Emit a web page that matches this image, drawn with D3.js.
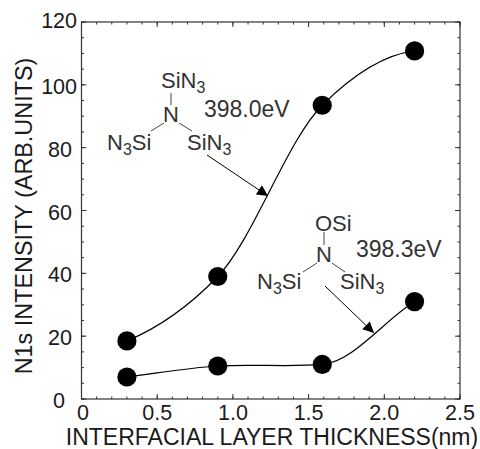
<!DOCTYPE html>
<html><head><meta charset="utf-8">
<script src="https://cdn.jsdelivr.net/npm/d3@7"></script>
<style>html,body{margin:0;background:#fff}svg{display:block}text{font-family:"Liberation Sans",Arial,sans-serif;fill:#1a1a1a}</style>
</head><body><svg id="c" width="480" height="449"></svg>
<script>
const thickness=[0.3,0.9,1.59,2.2];
const seriesA=[18.5,39,93.5,110.8];
const seriesB=[7,10.5,11,31];
// curve tangents (intensity per nm) at each point
const slopesA=[20,50,48,6];
const slopesB=[6,3,4,30];
const xMajor=[0,0.5,1,1.5,2,2.5];
const xLabels=["0","0.5","1.0","1.5","2.0","2.5"];
const yMajor=[0,20,40,60,80,100,120];
const xTitle="INTERFACIAL LAYER THICKNESS(nm)";
const yTitle="N1s INTENSITY (ARB.UNITS)";
const svg=d3.select("#c");
const x=d3.scaleLinear().domain([0,2.5]).range([81.5,460]);
const y=d3.scaleLinear().domain([0,120]).range([399,22]);
svg.append("defs").append("marker").attr("id","ah").attr("viewBox","0 0 10 10").attr("refX",10).attr("refY",5)
 .attr("markerWidth",15).attr("markerHeight",11).attr("markerUnits","userSpaceOnUse").attr("orient","auto")
 .append("path").attr("d","M0,0L10,5L0,10Z").attr("fill","#000");
svg.append("rect").attr("x",81.5).attr("y",22).attr("width",378.5).attr("height",377).attr("fill","none").attr("stroke","#333").attr("stroke-width",1.2);
const xMinor=d3.range(0,26).map(d=>d/10), yMinor=d3.range(0,25).map(d=>d*5);
const tick=(vals,fn,len,w)=>vals.forEach(v=>fn(v,len,w));
const xT=(v,l,w)=>{[[399,-1],[22,1]].forEach(([b,s])=>svg.append("line").attr("x1",x(v)).attr("x2",x(v)).attr("y1",b).attr("y2",b+s*l).attr("stroke","#333").attr("stroke-width",w));};
const yT=(v,l,w)=>{[[81.5,1],[460,-1]].forEach(([b,s])=>svg.append("line").attr("y1",y(v)).attr("y2",y(v)).attr("x1",b).attr("x2",b+s*l).attr("stroke","#333").attr("stroke-width",w));};
tick(xMinor,xT,2.5,1);tick(xMajor,xT,5,1);tick(yMinor,yT,2.5,1);tick(yMajor,yT,5,1);
xMajor.forEach((v,i)=>svg.append("text").attr("x",x(v)+(i==0?1.5:0)).attr("y",420).attr("text-anchor","middle").attr("font-size",21.5).text(xLabels[i]));
yMajor.forEach(v=>svg.append("text").attr("x",v==0?65:(v>=100?77:72)).attr("y",y(v)+(v==120?6:9)).attr("text-anchor","end").attr("font-size",21.5).text(v));
svg.append("text").attr("x",272).attr("y",445).attr("text-anchor","middle").attr("font-size",23).text(xTitle);
svg.append("text").attr("transform","translate(32,216) rotate(-90)").attr("text-anchor","middle").attr("font-size",23.4).text(yTitle);
const hermite=(xs,ys,ms)=>{const p=d3.path();p.moveTo(x(xs[0]),y(ys[0]));
 for(let i=0;i<xs.length-1;i++){const h=(xs[i+1]-xs[i])/3;
  p.bezierCurveTo(x(xs[i]+h),y(ys[i]+ms[i]*h),x(xs[i+1]-h),y(ys[i+1]-ms[i+1]*h),x(xs[i+1]),y(ys[i+1]));}
 return p.toString();};
[[seriesA,slopesA],[seriesB,slopesB]].forEach(([s,m])=>{
 svg.append("path").attr("d",hermite(thickness,s,m)).attr("fill","none").attr("stroke","#000").attr("stroke-width",1.2);
 svg.selectAll(null).data(thickness.map((t,i)=>[t,s[i]])).enter().append("circle").attr("cx",d=>x(d[0])).attr("cy",d=>y(d[1])).attr("r",9.6).attr("fill","#000");
});
const lbl=(t,px,py,fs)=>{const e=svg.append("text").attr("x",px).attr("y",py).attr("font-size",fs||22).style("fill","#333");
 t.forEach(([s,sub])=>e.append("tspan").attr("font-size",sub?16:(fs||22)).attr("dy",sub?5:(e.selectAll("tspan").size()>1?-5:0)).text(s));};
const seg=(a,b,c,d,m)=>{const l=svg.append("line").attr("x1",a).attr("y1",b).attr("x2",c).attr("y2",d).attr("stroke",m?"#000":"#444").attr("stroke-width",1);if(m)l.attr("marker-end","url(#ah)");};
lbl([["SiN"],["3",1]],161,88);
lbl([["N"]],163,122);
lbl([["N"],["3",1],["Si"]],107,150);
lbl([["SiN"],["3",1]],187,150);
lbl([["398.0eV"]],204,117,23);
seg(171,93,171,105);seg(164,123,151,131);seg(179,123,192,131);
seg(207,155,268,196,true);
lbl([["OSi"]],315,231);
lbl([["N"]],316,262);
lbl([["N"],["3",1],["Si"]],257,289);
lbl([["SiN"],["3",1]],340,289);
lbl([["398.3eV"]],356,257,23);
seg(324,232,324,245);seg(317,263,303,272);seg(332,263,345,272);
seg(325,286,374,333,true);
</script></body></html>
